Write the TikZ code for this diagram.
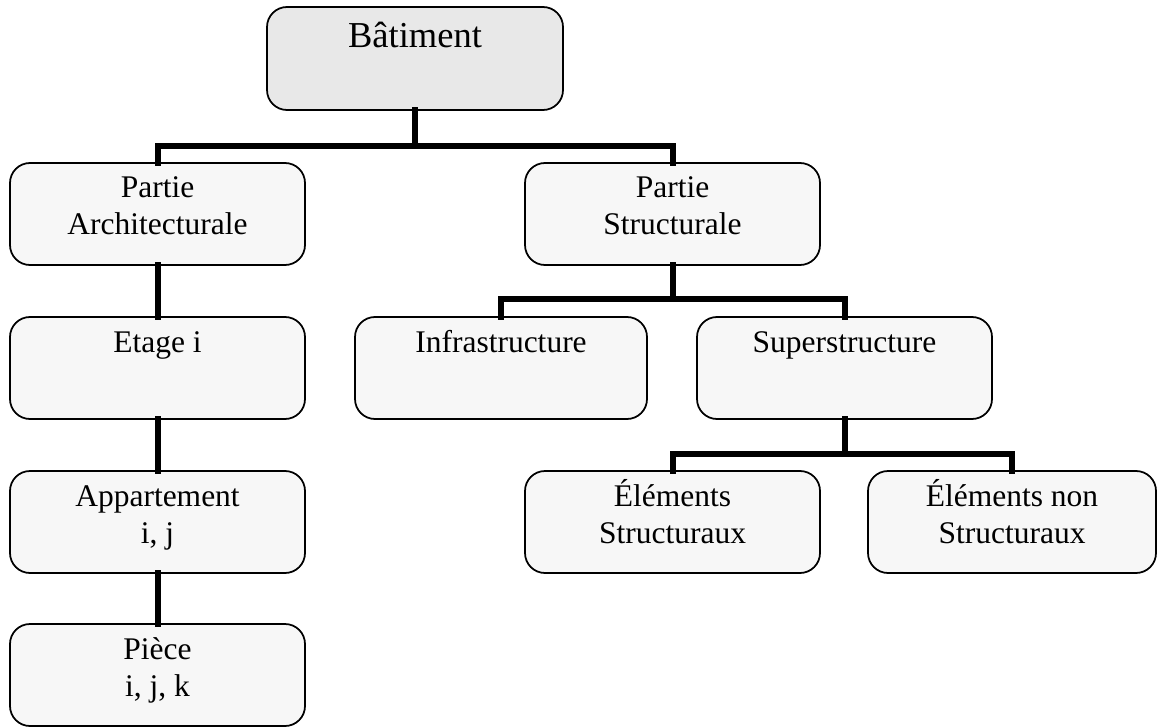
\documentclass[tikz,border=0pt]{standalone}
\usepackage{fontspec}
\setmainfont{Liberation Serif}
\usetikzlibrary{calc}
\definecolor{rootfill}{HTML}{E8E8E8}
\definecolor{boxfill}{HTML}{F7F7F7}
\begin{document}
\begin{tikzpicture}[x=1pt,y=-1pt,
  box/.style={draw=black, line width=1.75pt, rounded corners=20pt, fill=boxfill,
    minimum width=295pt, minimum height=102pt, inner sep=0pt, outer sep=0pt},
  rootbox/.style={box, fill=rootfill, minimum width=296pt, minimum height=103pt},
  lbl/.style={anchor=base, inner sep=0pt, font=\fontsize{31.5}{37}\selectfont},
  rootlbl/.style={anchor=base, inner sep=0pt, font=\fontsize{36.5}{42}\selectfont},
  conn/.style={line width=6pt, line join=miter, line cap=rect}]
\useasboundingbox (0,0) rectangle (1158,727);

% boxes of the hierarchy
\node[rootbox] (bat) at (415,58.5) {};
\node[box] (arch) at (157.5,214) {};
\node[box] (struc) at (672.5,214) {};
\node[box] (etage) at (157.5,368) {};
\node[box, minimum width=292pt] (infra) at (501,368) {};
\node[box] (sup) at (844.5,368) {};
\node[box] (app) at (157.5,522) {};
\node[box] (elS) at (672.5,522) {};
\node[box, minimum width=288pt] (elN) at (1012,522) {};
\node[box] (piece) at (157.5,675) {};

% labels, one node per line, placed on the baseline
\node[rootlbl] (batT) at ($(bat.north)+(0,41)$) {Bâtiment};
\node[lbl] (archT1) at ($(arch.north)+(0,35)$) {Partie};
\node[lbl] (archT2) at ($(arch.north)+(0,72)$) {Architecturale};
\node[lbl] (strucT1) at ($(struc.north)+(0,35)$) {Partie};
\node[lbl] (strucT2) at ($(struc.north)+(0,72)$) {Structurale};
\node[lbl] (etageT) at ($(etage.north)+(0,35)$) {Etage i};
\node[lbl] (infraT) at ($(infra.north)+(0,35)$) {Infrastructure};
\node[lbl] (supT) at ($(sup.north)+(0,35)$) {Superstructure};
\node[lbl] (appT1) at ($(app.north)+(0,35)$) {Appartement};
\node[lbl] (appT2) at ($(app.north)+(0,72)$) {i, j};
\node[lbl] (elST1) at ($(elS.north)+(0,35)$) {Éléments};
\node[lbl] (elST2) at ($(elS.north)+(0,72)$) {Structuraux};
\node[lbl] (elNT1) at ($(elN.north)+(0,35)$) {Éléments non};
\node[lbl] (elNT2) at ($(elN.north)+(0,72)$) {Structuraux};
\node[lbl] (pieceT1) at ($(piece.north)+(0,35)$) {Pièce};
\node[lbl] (pieceT2) at ($(piece.north)+(0,72)$) {i, j, k};

% orthogonal connectors
\draw[conn] (bat.south) -- ++(0,36) coordinate (j1);
\draw[conn] (arch.north) |- (j1) -| (struc.north);
\draw[conn] (arch.south) -- (etage.north);
\draw[conn] (etage.south) -- (app.north);
\draw[conn] (app.south) -- (piece.north);
\draw[conn] (struc.south) -- ++(0,34) coordinate (j2);
\draw[conn] (infra.north) |- (j2) -| (sup.north);
\draw[conn] (sup.south) -- ++(0,35) coordinate (j3);
\draw[conn] (elS.north) |- (j3) -| (elN.north);
\end{tikzpicture}
\end{document}
